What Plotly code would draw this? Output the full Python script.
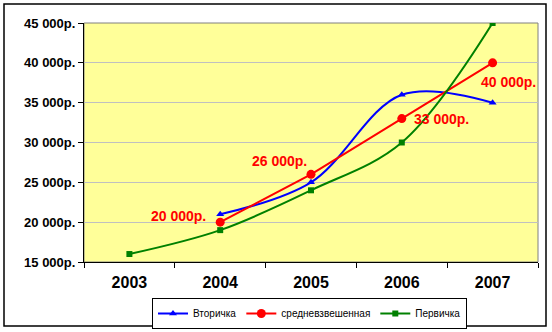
import plotly.graph_objects as go

years = ["2003", "2004", "2005", "2006", "2007"]
vtorichka = [None, 21000, 25000, 36000, 35000]
srednevzv = [None, 20000, 26000, 33000, 40000]
pervichka = [16000, 19000, 24000, 30000, 45000]
label_texts = [None, "20 000р.", "26 000р.", "33 000р.", "40 000р."]
ytick_vals = [15000, 20000, 25000, 30000, 35000, 40000, 45000]
ytick_text = ["15 000р.", "20 000р.", "25 000р.", "30 000р.", "35 000р.", "40 000р.", "45 000р."]

fig = go.Figure()
fig.add_trace(go.Scatter(
    x=years, y=vtorichka, name="Вторичка", mode="lines+markers",
    line=dict(color="#0000FF", width=2, shape="spline", smoothing=1),
    marker=dict(symbol="triangle-up", size=7, color="#0000FF"),
    connectgaps=False))
fig.add_trace(go.Scatter(
    x=years, y=srednevzv, name="средневзвешенная", mode="lines+markers",
    line=dict(color="#FF0000", width=2),
    marker=dict(symbol="circle", size=9, color="#FF0000")))
fig.add_trace(go.Scatter(
    x=years, y=pervichka, name="Первичка", mode="lines+markers",
    line=dict(color="#008000", width=2, shape="spline", smoothing=1),
    marker=dict(symbol="square", size=6, color="#008000")))

# data label offsets (pixels) : (xanchor, xshift, yshift)
offsets = [None, ("right", -12, 6), ("right", -2, 13), ("left", 10, 0), ("center", 16, -19)]
for i, (val, txt, off) in enumerate(zip(srednevzv, label_texts, offsets)):
    if txt is None:
        continue
    fig.add_annotation(x=i, y=val, xref="x", yref="y", text=txt, showarrow=False,
                       xanchor=off[0], yanchor="middle", xshift=off[1], yshift=off[2],
                       font=dict(family="Liberation Sans, Arial", size=14, color="#FF0000", weight="bold"))

L, R, T, B = 84, 14, 23, 70
W, H = 552, 332
pw, ph = W - L - R, H - T - B
def px(x):
    return (x - L) / pw
def py(y):
    return (H - B - y) / ph

fig.add_shape(type="rect", xref="paper", yref="paper",
              x0=px(4), x1=px(546), y0=py(326), y1=py(4),
              line=dict(color="black", width=1.5), fillcolor="rgba(0,0,0,0)", layer="below")
fig.add_shape(type="rect", xref="paper", yref="paper",
              x0=0, x1=1, y0=0, y1=1,
              line=dict(color="#808080", width=1), fillcolor="rgba(0,0,0,0)", layer="below")

fig.update_layout(
    width=W, height=H,
    margin=dict(l=L, r=R, t=T, b=B, autoexpand=False),
    paper_bgcolor="white", plot_bgcolor="#FFFF99",
    font=dict(family="Liberation Sans, Arial", color="black"),
    showlegend=True,
    legend=dict(orientation="h", xref="container", yref="container",
                x=309.5 / W, xanchor="center", y=(H - 298) / H, yanchor="top",
                bordercolor="black", borderwidth=1, bgcolor="white",
                font=dict(size=10), itemwidth=30, tracegroupgap=0),
)
fig.update_xaxes(type="category", showgrid=False, showline=True, linecolor="black", linewidth=1,
                 ticks="outside", tickson="boundaries", ticklen=5, tickcolor="black",
                 tickfont=dict(size=16, weight="bold"), ticklabelstandoff=6,
                 range=[-0.5, 4.5], fixedrange=True)
fig.update_yaxes(range=[15000, 45000], tickvals=ytick_vals, ticktext=ytick_text,
                 showgrid=True, gridcolor="#C0C0C0", gridwidth=1,
                 showline=True, linecolor="black", linewidth=1,
                 ticks="outside", ticklen=5, tickcolor="black",
                 tickfont=dict(size=13, weight="bold"), zeroline=False)

fig.write_html("out.html")
